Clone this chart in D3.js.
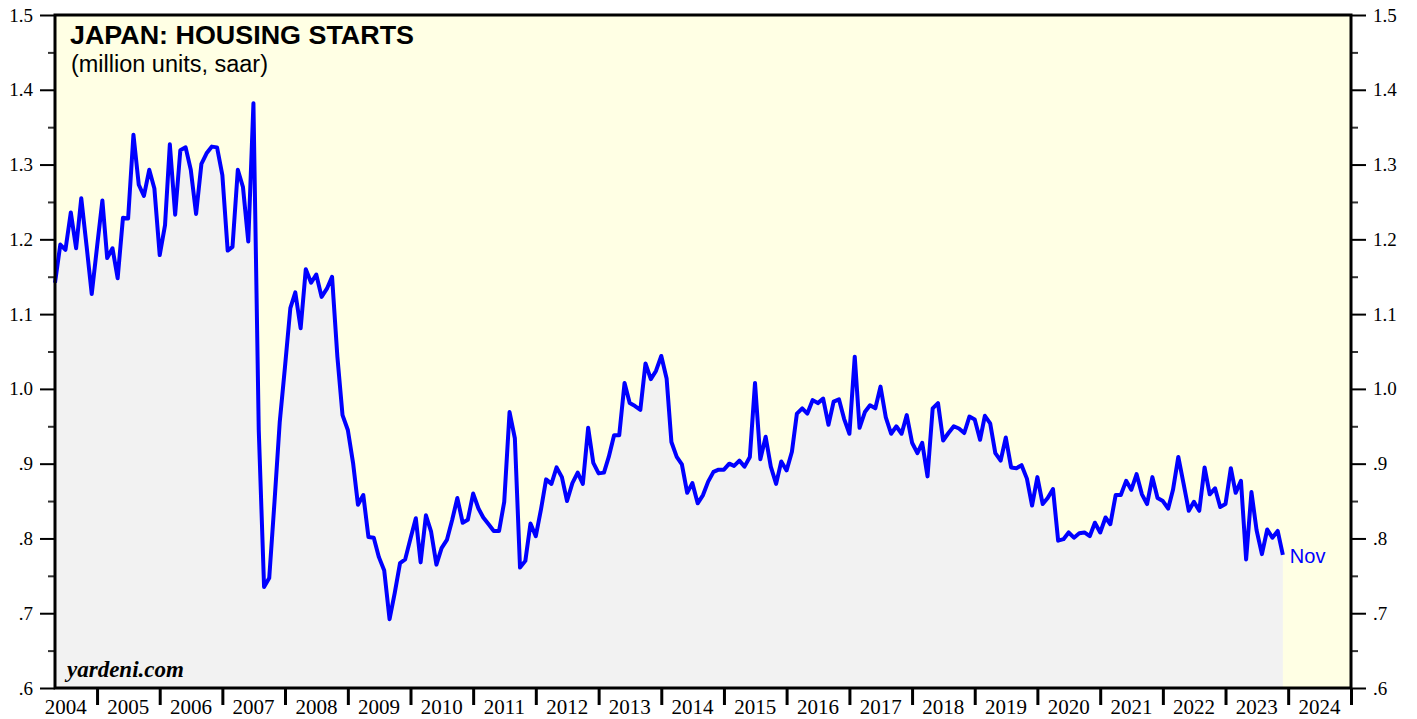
<!DOCTYPE html>
<html><head><meta charset="utf-8">
<script src="https://cdn.jsdelivr.net/npm/d3@7"></script>
<style>body{margin:0;background:#fff;} svg{display:block;}</style>
</head><body>
<svg id="chart" width="1417" height="719"></svg>
<script>
const title = "JAPAN: HOUSING STARTS";
const subtitle = "(million units, saar)";
const source = "yardeni.com";
const lastLabel = "Nov";
const firstMonth = [2004, 4]; // first observation: April 2004
const yearLabels = [2004,2005,2006,2007,2008,2009,2010,2011,2012,2013,2014,2015,2016,2017,2018,2019,2020,2021,2022,2023,2024];
const yTicks = [0.6,0.7,0.8,0.9,1.0,1.1,1.2,1.3,1.4,1.5];
const yTickLabels = [".6",".7",".8",".9","1.0","1.1","1.2","1.3","1.4","1.5"];
const yMinorTicks = [0.65,0.75,0.85,0.95,1.05,1.15,1.25,1.35,1.45];
// million units, saar, monthly Apr 2004 .. Nov 2023
const housingStarts = [
  1.142,1.193,1.186,1.236,1.188,1.255,1.191,1.127,1.19,
  1.252,1.175,1.188,1.148,1.229,1.228,1.340,1.273,1.258,1.293,1.268,1.179,
  1.219,1.327,1.233,1.319,1.323,1.293,1.234,1.301,1.315,1.324,1.323,1.286,
  1.185,1.19,1.293,1.270,1.197,1.382,0.945,0.735,0.747,0.850,0.955,1.030,
  1.108,1.129,1.081,1.160,1.142,1.153,1.123,1.134,1.150,1.043,0.965,0.945,
  0.900,0.845,0.858,0.802,0.801,0.775,0.757,0.692,0.727,0.767,0.772,0.800,
  0.827,0.768,0.831,0.809,0.765,0.787,0.798,0.825,0.854,0.821,0.825,0.860,
  0.840,0.828,0.819,0.810,0.810,0.849,0.969,0.934,0.761,0.770,0.820,0.803,
  0.840,0.879,0.873,0.895,0.882,0.850,0.874,0.888,0.873,0.948,0.901,0.887,
  0.888,0.909,0.938,0.938,1.008,0.981,0.977,0.972,1.034,1.013,1.024,1.044,
  1.014,0.929,0.909,0.899,0.861,0.874,0.847,0.858,0.876,0.889,0.892,0.892,
  0.900,0.897,0.904,0.896,0.909,1.008,0.906,0.936,0.896,0.873,0.903,0.891,
  0.916,0.967,0.974,0.967,0.985,0.981,0.987,0.952,0.983,0.986,0.960,0.940,
  1.043,0.948,0.969,0.978,0.974,1.003,0.962,0.940,0.950,0.940,0.965,0.928,
  0.914,0.928,0.883,0.974,0.981,0.931,0.941,0.950,0.947,0.941,0.963,0.959,
  0.932,0.964,0.954,0.914,0.904,0.935,0.895,0.894,0.898,0.880,0.844,0.882,
  0.846,0.854,0.866,0.797,0.799,0.808,0.801,0.807,0.808,0.803,0.821,0.808,
  0.828,0.819,0.858,0.858,0.877,0.865,0.886,0.859,0.846,0.882,0.854,0.850,
  0.840,0.865,0.909,0.874,0.837,0.849,0.837,0.895,0.859,0.867,0.842,0.846,
  0.894,0.861,0.877,0.772,0.862,0.811,0.779,0.812,0.801,0.810,0.778
];

const svg = d3.select("#chart");
const m = {left:55, right:1351, top:15, bottom:688};
const serif = "'Liberation Serif','Times New Roman',serif";
const sans = "'Liberation Sans',Arial,Helvetica,sans-serif";

const points = housingStarts.map((v,i)=>({
  date: new Date(Date.UTC(firstMonth[0], firstMonth[1]-1+i+1, 1)), v}));
const x = d3.scaleUtc()
  .domain([points[0].date, new Date(Date.UTC(yearLabels[yearLabels.length-1]+1,0,1))])
  .range([m.left, m.right]);
const y = d3.scaleLinear().domain([0.6,1.5]).range([m.bottom, m.top]);

// plot background
svg.append("rect").attr("x",m.left).attr("y",m.top)
  .attr("width",m.right-m.left).attr("height",m.bottom-m.top).attr("fill","#ffffe4");

// area
svg.append("path").datum(points)
  .attr("fill","#f2f2f2")
  .attr("d", d3.area().x(d=>x(d.date)).y0(y(0.6)).y1(d=>y(d.v)));

// line
svg.append("path").datum(points)
  .attr("fill","none").attr("stroke","#0000ff").attr("stroke-width",4)
  .attr("stroke-linejoin","round")
  .attr("d", d3.line().x(d=>x(d.date)).y(d=>y(d.v)));

// last label
const last = points[points.length-1];
svg.append("text").attr("x", x(last.date)+7).attr("y", y(last.v)+8)
  .attr("fill","#0000ff").attr("font-family",sans).attr("font-size",20).text(lastLabel);

// axes
function styleAxis(g, size){
  g.select(".domain").remove();
  g.selectAll(".tick line").attr("stroke","#000").attr("stroke-width",2);
  g.selectAll(".tick text").attr("font-family",serif).attr("font-size",size).attr("fill","#000");
}
const yl = svg.append("g").attr("transform",`translate(${m.left},0)`)
  .call(d3.axisLeft(y).tickValues(yTicks).tickFormat((d,i)=>yTickLabels[i]).tickSize(15).tickPadding(7));
styleAxis(yl, 19);
const yr = svg.append("g").attr("transform",`translate(${m.right},0)`)
  .call(d3.axisRight(y).tickValues(yTicks).tickFormat((d,i)=>yTickLabels[i]).tickSize(15).tickPadding(7));
styleAxis(yr, 19);
const ylm = svg.append("g").attr("transform",`translate(${m.left},0)`)
  .call(d3.axisLeft(y).tickValues(yMinorTicks).tickFormat("").tickSize(7));
styleAxis(ylm, 0); ylm.selectAll(".tick line").attr("stroke","#333");
const yrm = svg.append("g").attr("transform",`translate(${m.right},0)`)
  .call(d3.axisRight(y).tickValues(yMinorTicks).tickFormat("").tickSize(7));
styleAxis(yrm, 0); yrm.selectAll(".tick line").attr("stroke","#333");

const yearTicks = yearLabels.slice(1).map(yy=>new Date(Date.UTC(yy,0,1)))
  .concat([new Date(Date.UTC(yearLabels[yearLabels.length-1]+1,0,1))]);
const xb = svg.append("g").attr("transform",`translate(0,${m.bottom})`)
  .call(d3.axisBottom(x).tickValues(yearTicks).tickFormat("").tickSize(17));
styleAxis(xb, 0); xb.selectAll(".tick line").attr("stroke-width",3);

svg.append("g").selectAll("text").data(yearLabels).join("text")
  .attr("x", yy=> x(new Date(Date.UTC(yy,6,2))))
  .attr("y", 714).attr("text-anchor","middle")
  .attr("font-family",serif).attr("font-size",21).attr("fill","#000")
  .text(yy=>yy);

// frame
svg.append("rect").attr("x",m.left).attr("y",m.top)
  .attr("width",m.right-m.left).attr("height",m.bottom-m.top)
  .attr("fill","none").attr("stroke","#000").attr("stroke-width",3);

// titles
svg.append("text").attr("x",70).attr("y",44).attr("font-family",sans)
  .attr("font-weight","bold").attr("font-size",26).attr("fill","#000")
  .attr("textLength",344).attr("lengthAdjust","spacingAndGlyphs").text(title);
svg.append("text").attr("x",71).attr("y",72).attr("font-family",sans)
  .attr("font-size",23).attr("fill","#000")
  .attr("textLength",197).attr("lengthAdjust","spacingAndGlyphs").text(subtitle);
svg.append("text").attr("x",67).attr("y",677).attr("font-family",serif)
  .attr("font-weight","bold").attr("font-style","italic").attr("font-size",23)
  .attr("fill","#000").text(source);
</script>
</body></html>
